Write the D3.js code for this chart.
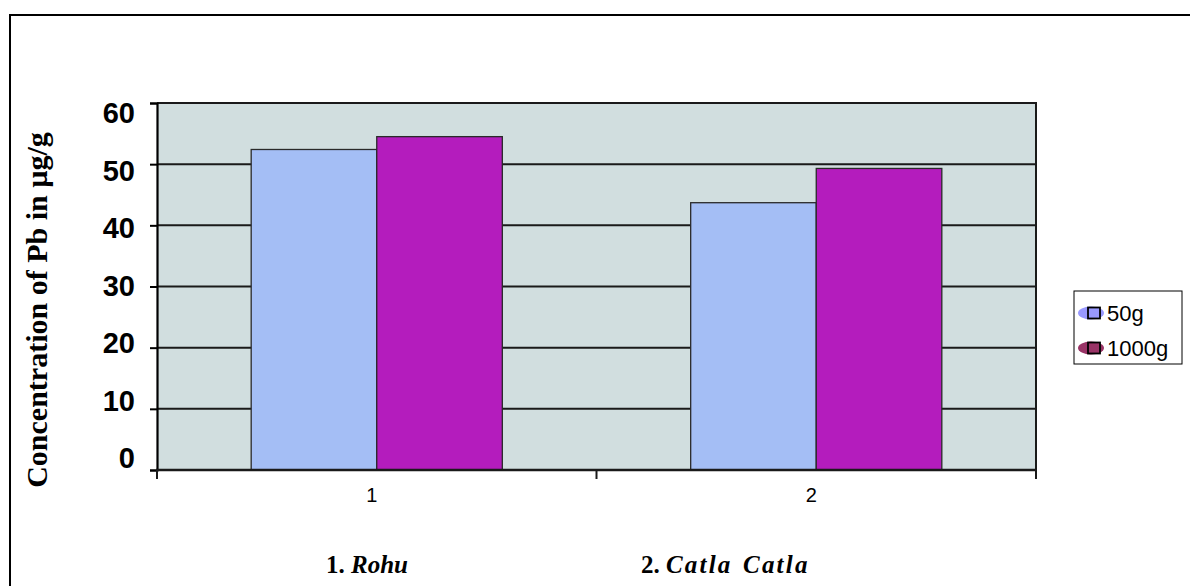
<!DOCTYPE html>
<html>
<head>
<meta charset="utf-8">
<script src="https://cdn.jsdelivr.net/npm/d3@7"></script>
<style>
  html, body { margin: 0; padding: 0; background: #fff; }
  svg { display: block; }
</style>
</head>
<body>
<svg id="chart" width="1190" height="586"></svg>
<script>
// Lead (Pb) concentration in two fish species, two size groups
const categories = ["1", "2"];
const seriesNames = ["50g", "1000g"];
const values50g = [52.4, 43.7];
const values1000g = [54.5, 49.3];
const yTicks = [0, 10, 20, 30, 40, 50, 60];
const speciesLabels = [
  { num: "1. ", name: "Rohu" },
  { num: "2. ", name: "Catla Catla" }
];

const barColors = ["#a4bef5", "#b41cbd"];
const legendColors = ["#9999ff", "#993366"];

const svg = d3.select("#chart");

// Outer frame (extends past the right and bottom edges)
svg.append("rect")
  .attr("x", 10).attr("y", 15)
  .attr("width", 1200).attr("height", 600)
  .attr("fill", "#fff").attr("stroke", "#000").attr("stroke-width", 2);

const plot = { left: 157, right: 1036, top: 103, bottom: 470 };

const x = d3.scaleBand().domain(categories).range([plot.left, plot.right]);
const xInner = d3.scaleBand().domain(seriesNames)
  .range([0, x.bandwidth()]).paddingInner(0).paddingOuter(0.75);
const y = d3.scaleLinear().domain([0, 60]).range([plot.bottom, plot.top]);
// tick labels sit on a slightly compressed ladder of their own
const yLabel = d3.scaleLinear().domain([0, 60]).range([458, 113]);

// plot background
svg.append("rect")
  .attr("x", plot.left).attr("y", plot.top)
  .attr("width", plot.right - plot.left).attr("height", plot.bottom - plot.top)
  .attr("fill", "#d1dedf");

// horizontal gridlines
const gridG = svg.append("g");
gridG.selectAll("line").data(yTicks.filter(t => t > 0)).join("line")
  .attr("x1", plot.left).attr("x2", plot.right)
  .attr("y1", d => y(d)).attr("y2", d => y(d))
  .attr("stroke", "#1a1a1a").attr("stroke-width", 2);

// bars
const data = categories.map((c, i) => ({ cat: c, vals: [values50g[i], values1000g[i]] }));
const groups = svg.selectAll("g.cat").data(data).join("g")
  .attr("class", "cat")
  .attr("transform", d => `translate(${x(d.cat)},0)`);
groups.selectAll("rect").data(d => d.vals.map((v, j) => ({ v, s: seriesNames[j], j })))
  .join("rect")
  .attr("x", d => xInner(d.s))
  .attr("y", d => y(d.v))
  .attr("width", xInner.bandwidth())
  .attr("height", d => y(0) - y(d.v))
  .attr("fill", d => barColors[d.j])
  .attr("stroke", "#2a2a2a").attr("stroke-width", 1.3);

// right border of plot
svg.append("line")
  .attr("x1", plot.right).attr("x2", plot.right)
  .attr("y1", plot.top - 1).attr("y2", plot.bottom)
  .attr("stroke", "#1a1a1a").attr("stroke-width", 2);

// y axis line and ticks
const yAxis = d3.axisLeft(y).tickValues(yTicks).tickSize(7).tickFormat("");
const yAxisG = svg.append("g").attr("transform", `translate(${plot.left},0)`).call(yAxis);
yAxisG.select(".domain").attr("stroke", "#000").attr("stroke-width", 2.2);
yAxisG.selectAll(".tick line").attr("stroke", "#000").attr("stroke-width", 2);

// y tick labels
svg.append("g").selectAll("text").data(yTicks).join("text")
  .attr("x", 135)
  .attr("y", d => yLabel(d))
  .attr("text-anchor", "end")
  .attr("dominant-baseline", "central")
  .attr("font-family", "Liberation Sans, Arial, sans-serif")
  .attr("font-weight", "bold")
  .attr("font-size", 29)
  .attr("fill", "#000")
  .text(d => d);

// x axis with boundary ticks
const xAxisG = svg.append("g").attr("transform", `translate(0,${plot.bottom})`);
xAxisG.append("line")
  .attr("x1", plot.left - 1).attr("x2", plot.right + 1)
  .attr("y1", 0).attr("y2", 0)
  .attr("stroke", "#1a1a1a").attr("stroke-width", 2.5);
const boundaries = [plot.left, ...categories.map(c => x(c) + x.bandwidth())];
xAxisG.selectAll("line.tk").data(boundaries).join("line")
  .attr("class", "tk")
  .attr("x1", d => d).attr("x2", d => d)
  .attr("y1", 0).attr("y2", 9)
  .attr("stroke", "#1a1a1a").attr("stroke-width", 2);
xAxisG.selectAll("text").data(categories).join("text")
  .attr("x", d => x(d) + x.bandwidth() / 2 - 5)
  .attr("y", 32)
  .attr("text-anchor", "middle")
  .attr("font-family", "Liberation Sans, Arial, sans-serif")
  .attr("font-size", 20)
  .attr("fill", "#000")
  .text(d => d);

// y axis title
svg.append("text")
  .attr("transform", "translate(47,310) rotate(-90)")
  .attr("text-anchor", "middle")
  .attr("font-family", "Liberation Serif, 'Times New Roman', serif")
  .attr("font-weight", "bold")
  .attr("font-size", 30)
  .attr("fill", "#000")
  .text("Concentration of Pb in µg/g");

// species labels under the axis
const speciesX = [326, 641];
const sp = svg.append("g").selectAll("text").data(speciesLabels).join("text")
  .attr("x", (d, i) => speciesX[i])
  .attr("y", 573)
  .attr("font-family", "Liberation Serif, 'Times New Roman', serif")
  .attr("font-weight", "bold")
  .attr("font-size", 25)
  .attr("fill", "#000");
sp.append("tspan").text(d => d.num);
sp.append("tspan")
  .attr("font-style", "italic")
  .attr("letter-spacing", (d, i) => i === 1 ? 2.2 : 0)
  .attr("word-spacing", (d, i) => i === 1 ? 2 : 0)
  .text(d => d.name);

// legend
const legend = svg.append("g").attr("transform", "translate(1074,291)");
legend.append("rect")
  .attr("x", 0).attr("y", 0).attr("width", 108).attr("height", 73)
  .attr("fill", "#fff").attr("stroke", "#000").attr("stroke-width", 1);
const items = legend.selectAll("g.item").data(seriesNames).join("g")
  .attr("class", "item")
  .attr("transform", (d, i) => `translate(0,${22 + i * 35})`);
items.append("ellipse")
  .attr("cx", 17).attr("cy", 0).attr("rx", 13).attr("ry", 6.5)
  .attr("fill", (d, i) => legendColors[i]);
items.append("rect")
  .attr("x", 14).attr("y", -5.5).attr("width", 12).attr("height", 11)
  .attr("fill", (d, i) => legendColors[i])
  .attr("stroke", "#000").attr("stroke-width", 1.8);
items.append("text")
  .attr("x", 33).attr("y", 0)
  .attr("dominant-baseline", "central")
  .attr("font-family", "Liberation Sans, Arial, sans-serif")
  .attr("font-size", 22)
  .attr("fill", "#000")
  .text(d => d);
</script>
</body>
</html>
